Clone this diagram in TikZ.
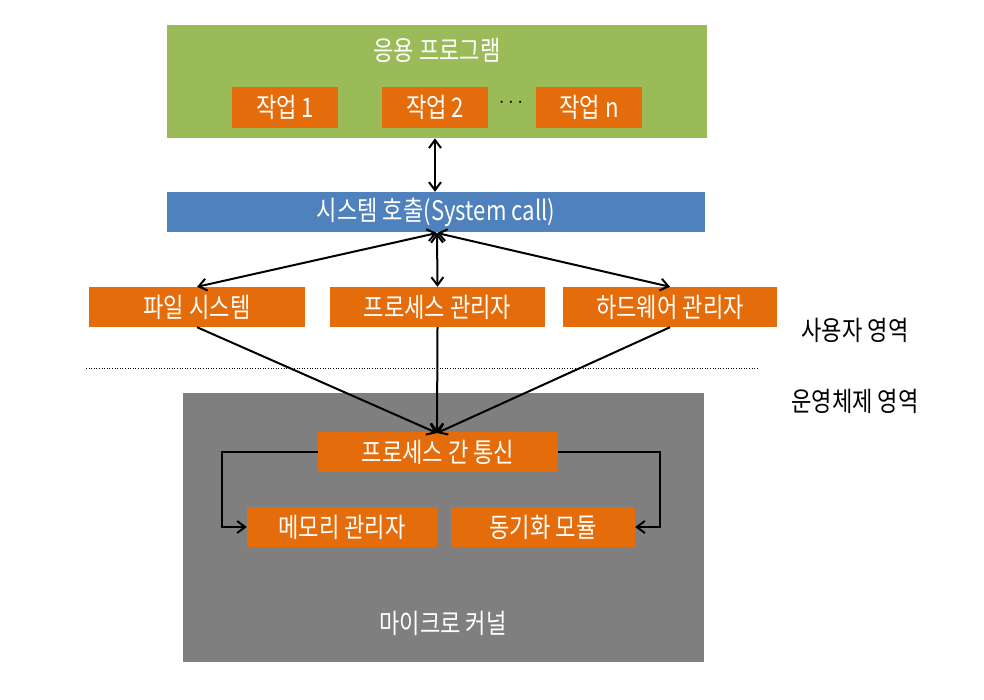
\documentclass[tikz,border=0pt]{standalone}
\usepackage{fontspec}
\setmainfont[FakeStretch=0.82]{Noto Sans CJK KR}
\usetikzlibrary{arrows.meta}
\definecolor{appgreen}{HTML}{9BBB59}
\definecolor{callblue}{HTML}{4F81BD}
\definecolor{modorange}{HTML}{E46C0A}
\definecolor{kgray}{HTML}{7F7F7F}
\tikzset{
  box/.style={inner sep=0pt, text=white, font=\fontsize{27}{29}\selectfont},
  orangebox/.style={box, fill=modorange},
  conn/.style={line width=2pt, -{Straight Barb[length=8pt,width=12pt]}},
  dconn/.style={line width=2pt, {Straight Barb[length=8pt,width=12pt]}-{Straight Barb[length=8pt,width=12pt]}},
  lbl/.style={font=\fontsize{27}{29}\selectfont}
}
\begin{document}
\begin{tikzpicture}[x=1pt,y=-1pt]
\useasboundingbox (0,0) rectangle (984,699);
% green application box
\node[box, fill=appgreen, minimum width=540pt, minimum height=113pt, anchor=north west] (app) at (167,25) {};
\node[lbl, text=white] (apptitle) at (437,50) {응용 프로그램};
\node[orangebox, minimum width=106pt, minimum height=41pt] (t1) at (285,107.5) {작업 1};
\node[orangebox, minimum width=106pt, minimum height=41pt] (t2) at (435,107.5) {작업 2};
\node[font=\fontsize{20}{22}\selectfont] (dots) at (511,103) {$\cdots$};
\node[orangebox, minimum width=106pt, minimum height=41pt] (tn) at (589,107.5) {작업 n};
% system call
\node[box, fill=callblue, minimum width=538pt, minimum height=40pt] (sys) at (436,212) {시스템 호출(System call)};
% managers
\node[orangebox, minimum width=216pt, minimum height=40pt] (fs) at (197,307) {파일 시스템};
\node[orangebox, minimum width=215pt, minimum height=40pt] (pm) at (437.5,307) {프로세스 관리자};
\node[orangebox, minimum width=214pt, minimum height=40pt] (hw) at (670,307) {하드웨어 관리자};
% region labels
\node[lbl] (user) at (855,330) {사용자 영역};
\node[lbl] (os) at (855,401) {운영체제 영역};
\coordinate (dl) at (86,368);
\coordinate (dr) at (757,368);
\draw[dotted, line width=0.6pt] (dl) -- (dr);
% kernel
\node[fill=kgray, minimum width=521pt, minimum height=269pt, inner sep=0pt, anchor=north west] (kern) at (183,393) {};
\node[lbl, text=white] (ktitle) at (443,623) {마이크로 커널};
\node[orangebox, minimum width=240pt, minimum height=40pt] (ipc) at (438,452) {프로세스 간 통신};
\node[orangebox, minimum width=190pt, minimum height=40pt] (mem) at (342,527) {메모리 관리자};
\node[orangebox, minimum width=184pt, minimum height=40pt] (sync) at (543,527) {동기화 모듈};
% connectors
\draw[dconn] (app.south -| t2) -- (sys.north -| t2);
\coordinate (sb) at (437,233);
\draw[dconn] (sb) -- (fs.north);
\draw[dconn] (sb) -- (pm.north);
\draw[dconn] (sb) -- (hw.north);
\coordinate (it) at (437,433);
\draw[conn] (fs.south) -- (it);
\draw[conn] (pm.south) -- (it);
\draw[conn] (hw.south) -- (it);
\draw[conn] (ipc.west) -| (222,510) |- (mem.west);
\draw[conn] (ipc.east) -| (660,510) |- (sync.east);
\end{tikzpicture}
\end{document}
